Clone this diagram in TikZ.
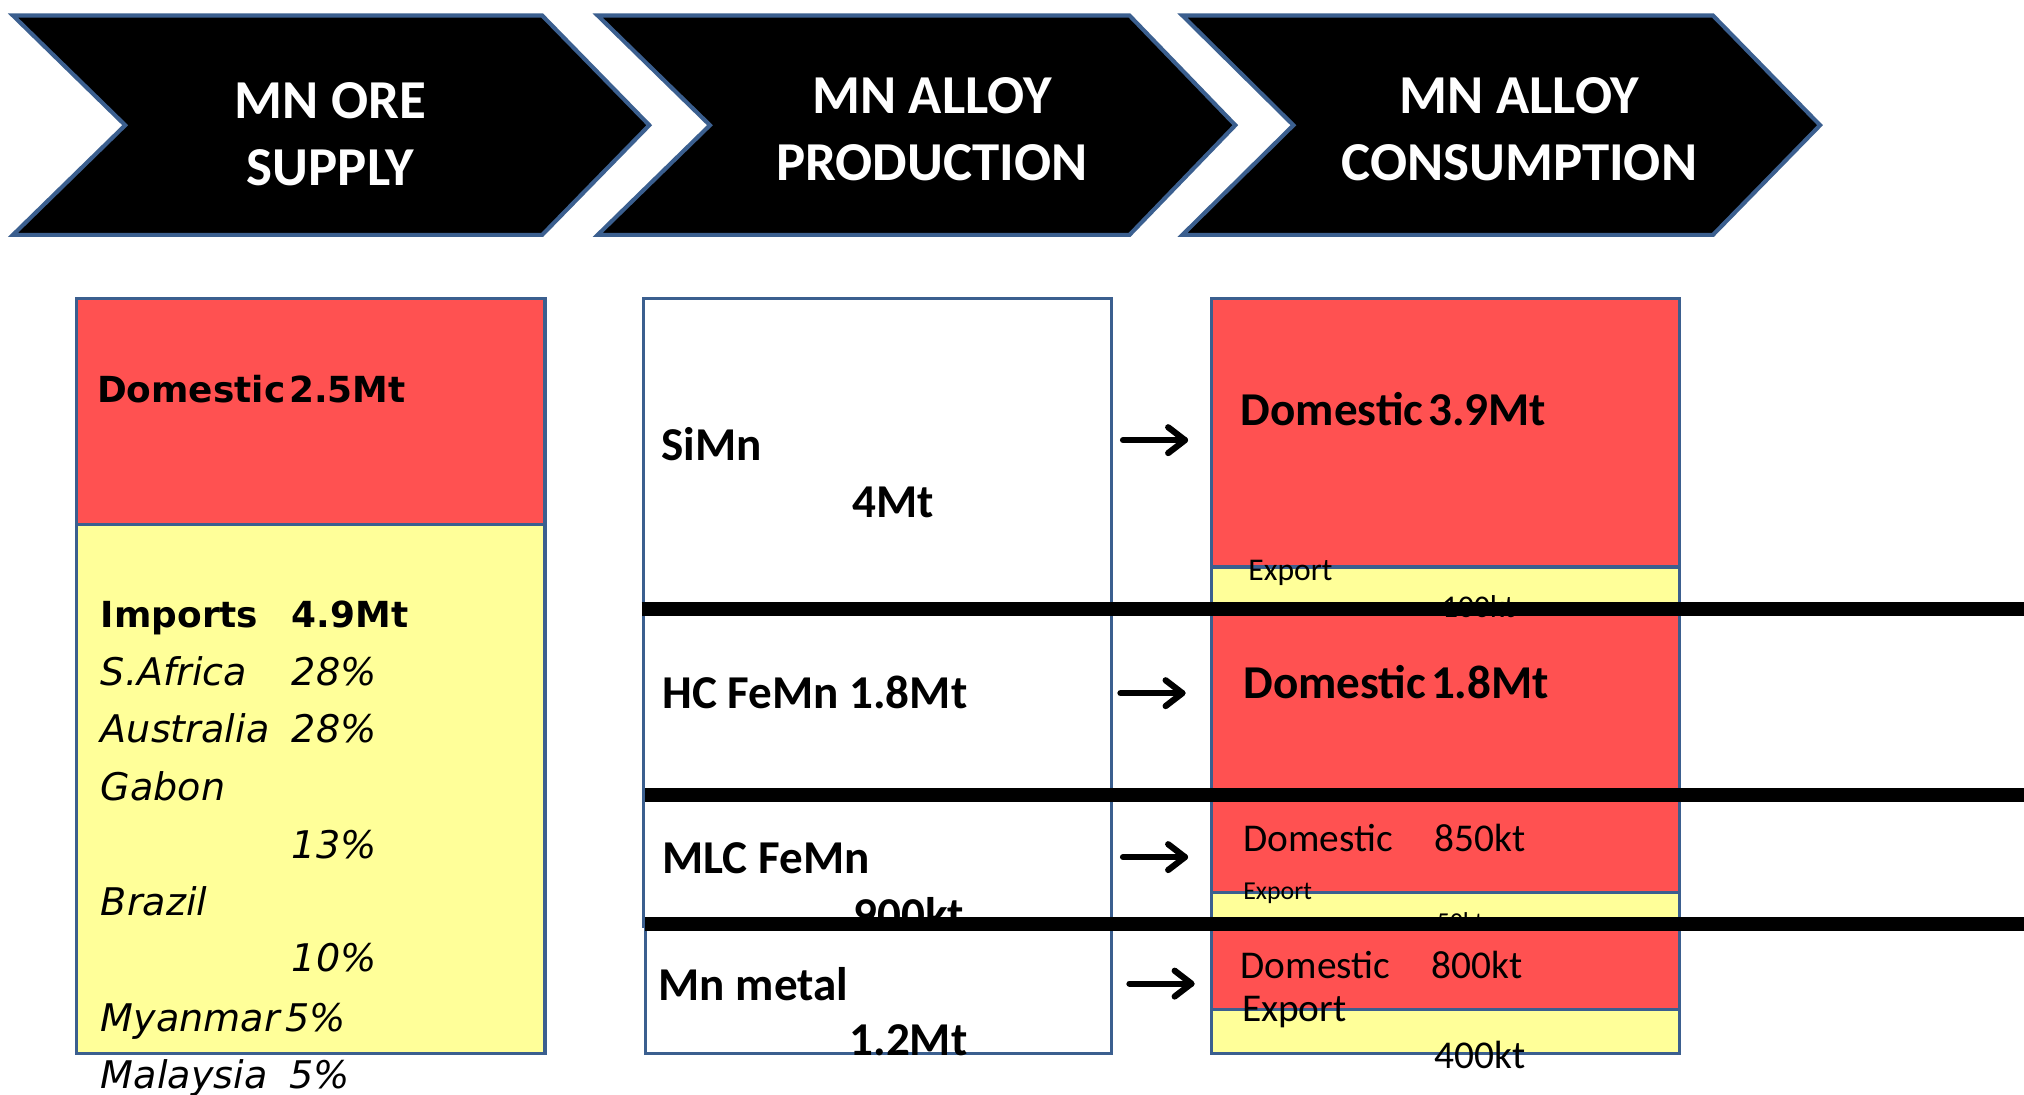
\documentclass[tikz,border=0pt]{standalone}
\usepackage{fontspec}
\setmainfont{Carlito}
\newfontfamily\verd{DejaVu Sans}[ItalicFont={DejaVu Sans Oblique},BoldFont={DejaVu Sans Bold},BoldItalicFont={DejaVu Sans Bold Oblique}]
\usetikzlibrary{arrows.meta}
\definecolor{redf}{HTML}{FF5151}
\definecolor{yelf}{HTML}{FFFF99}
\definecolor{bord}{HTML}{3B5F8F}
\begin{document}
\begin{tikzpicture}[x=1pt,y=-1pt,
  chev/.style={fill=black,draw=bord,line width=3.2pt,line join=miter},
  hdr/.style={text=white,align=center,inner sep=0pt,font=\bfseries\fontsize{42.5}{52}\selectfont},
  cell/.style={draw=bord,line width=2.6pt,anchor=north west,inner sep=0pt,minimum width=363pt},
  redcell/.style={cell,fill=redf},
  yelcell/.style={cell,fill=yelf},
  whitecell/.style={cell,fill=white},
  txt/.style={anchor=base west,inner sep=0pt},
  lb/.style={txt,font=\verd\bfseries\fontsize{27.8}{33}\selectfont},
  li/.style={txt,font=\verd\itshape\fontsize{29.5}{35}\selectfont},
  mb/.style={txt,font=\bfseries\fontsize{36.5}{44}\selectfont},
  rr/.style={txt,font=\fontsize{30.5}{37}\selectfont},
  arr/.style={line width=4.8pt,line cap=round,line join=round},
  bar/.style={line width=10.5pt,black}]
\clip (0,0) rectangle (1568,848);
\useasboundingbox (0,0) rectangle (1568,848);

% header chevrons
\draw[chev] (10,12) -- (420,12) -- (503,97) -- (420,182) -- (10,182) -- (97,97) -- cycle;
\draw[chev] (463,12) -- (875,12) -- (957,97) -- (875,182) -- (463,182) -- (550,97) -- cycle;
\draw[chev] (916,12) -- (1327,12) -- (1410,97) -- (1327,182) -- (916,182) -- (1002,97) -- cycle;
\node[hdr] (h1) at (256,104) {MN ORE\\SUPPLY};
\node[hdr] (h2) at (722,100) {MN ALLOY\\PRODUCTION};
\node[hdr] (h3) at (1177,100) {MN ALLOY\\CONSUMPTION};

% left column
\node[redcell,minimum height=175pt] (l1) at (58,230) {};
\node[yelcell,minimum height=410pt] (l2) at (58,405) {};
\node[lb] (ld) at (75,312) {{\spaceskip=3pt Domestic 2.5Mt}};
\node[lb] (limp) at (78,486) {Imports};
\node[lb] (limpv) at (226,486) {4.9Mt};
\node[li] (n1) at (78,531) {S.Africa};
\node[li] (v1) at (226,531) {28\%};
\node[li] (n2) at (78,575) {Australia};
\node[li] (v2) at (226,575) {28\%};
\node[li] (n3) at (78,620) {Gabon};
\node[li] (v3) at (226,665) {13\%};
\node[li] (n4) at (78,709) {Brazil};
\node[li] (v4) at (226,753) {10\%};
\node[li] (n5) at (78,799) {Myanmar};
\node[li] (v5) at (221,799) {5\%};
\node[li] (n6) at (78,843) {Malaysia};
\node[li] (v6) at (224,843) {5\%};

% middle column
\node[whitecell,minimum height=242pt] (m1) at (497,230) {};
\node[whitecell,minimum height=144pt] (m2) at (497,472) {};
\node[whitecell,minimum height=100pt] (m3) at (497,616) {};
\node[whitecell,minimum height=99pt,minimum width=361pt] (m4) at (499,716) {};
\node[mb] (t1) at (512,357) {SiMn};
\node[mb] (t1v) at (660,401) {4Mt};
\node[mb] (t2) at (513,549) {HC FeMn 1.8Mt};
\node[mb] (t3) at (513,677) {MLC FeMn};
\node[mb] (t3v) at (661,721) {900kt};
\node[mb] (t4) at (510,775) {Mn metal};
\node[mb] (t4v) at (658,818) {1.2Mt};

% right column
\node[redcell,minimum height=208pt] (r1) at (937,230) {};
\node[yelcell,minimum height=36pt] (r1x) at (937,438) {};
\node[redcell,minimum height=144pt] (r2) at (937,474) {};
\node[redcell,minimum height=74pt] (r3) at (937,616) {};
\node[yelcell,minimum height=26pt] (r3x) at (937,690) {};
\node[redcell,minimum height=65pt] (r4) at (937,716) {};
\node[yelcell,minimum height=34pt] (r4x) at (937,781) {};
\node[mb] (d1) at (961,330) {{\spaceskip=4pt Domestic 3.9Mt}};
\node[txt,font=\fontsize{24.5}{30}\selectfont] (e1) at (967,450) {Export};
\node[txt,font=\fontsize{24.5}{30}\selectfont] (e1v) at (1117,478) {100kt};
\node[mb] (d2) at (963,541) {{\spaceskip=4pt Domestic 1.8Mt}};
\node[rr] (d3) at (963,660) {Domestic};
\node[rr] (d3v) at (1111,660) {850kt};
\node[txt,font=\fontsize{20}{24}\selectfont] (e3) at (963,697) {Export};
\node[txt,font=\fontsize{20}{24}\selectfont] (e3v) at (1113,721) {50kt};
\node[rr] (d4) at (961,758) {Domestic};
\node[rr] (d4v) at (1109,758) {800kt};
\node[rr] (e4) at (962,791) {Export};
\node[rr] (e4v) at (1111,828) {400kt};

% arrows (bold text-style arrows)
\coordinate (a1s) at (870,341); \coordinate (a1e) at (918,341);
\coordinate (a2s) at (868,537); \coordinate (a2e) at (916,537);
\coordinate (a3s) at (870,664); \coordinate (a3e) at (918,664);
\coordinate (a4s) at (875,762); \coordinate (a4e) at (923,762);
\foreach \s/\e in {a1s/a1e,a2s/a2e,a3s/a3e,a4s/a4e}{
  \draw[arr] (\s) -- (\e);
  \draw[arr] (\e) ++(-13,-10) -- (\e) -- ++(-13,10);
}

% black bars
\coordinate (b1s) at (497,472); \coordinate (b1e) at (1580,472);
\coordinate (b2s) at (500,616); \coordinate (b2e) at (1580,616);
\coordinate (b3s) at (500,716); \coordinate (b3e) at (1580,716);
\draw[bar] (b1s) -- (b1e);
\draw[bar] (b2s) -- (b2e);
\draw[bar] (b3s) -- (b3e);
\end{tikzpicture}
\end{document}
